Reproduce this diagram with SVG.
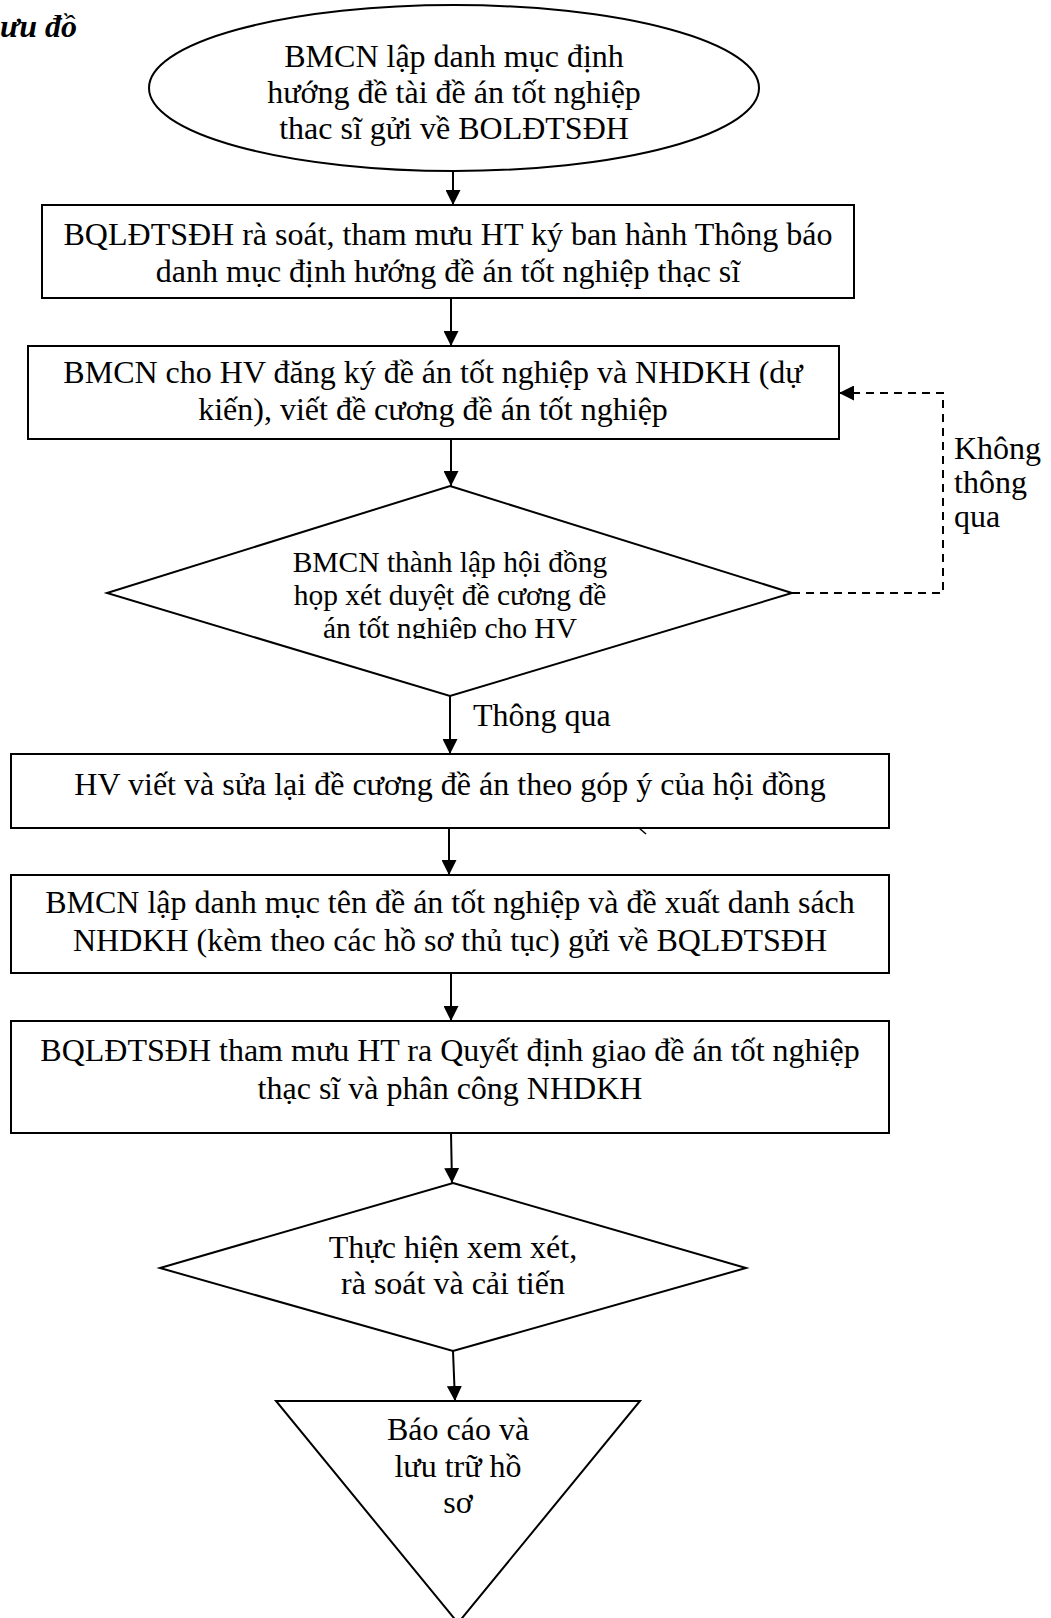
<svg xmlns="http://www.w3.org/2000/svg" width="1051" height="1618" viewBox="0 0 1051 1618">
<style>
.s{fill:#fff;stroke:#000;stroke-width:2}
.t{font-family:"Liberation Serif","Times New Roman",serif;font-size:32px;fill:#000;text-anchor:middle}
.l{font-family:"Liberation Serif","Times New Roman",serif;font-size:32px;fill:#000}
.c{stroke:#000;stroke-width:2;fill:none}
.d{stroke:#000;stroke-width:2;fill:none;stroke-dasharray:8 6}
</style>
<defs>
<marker id="ah" markerWidth="15" markerHeight="15" refX="15" refY="7.5" orient="auto" markerUnits="userSpaceOnUse">
<path d="M0,0 L15,7.5 L0,15 Z" fill="#000"/>
</marker>
<clipPath id="cd1"><rect x="100" y="480" width="700" height="159"/></clipPath>
<clipPath id="ctr"><rect x="270" y="1395" width="380" height="118"/></clipPath>
</defs>
<text x="0" y="37" style="font-family:'Liberation Serif',serif;font-size:32px;font-weight:bold;font-style:italic">ưu đồ</text>
<g id="n1">
<ellipse class="s" cx="454" cy="88" rx="305" ry="83"/>
<text class="t" x="454" y="67">BMCN lập danh mục định</text>
<text class="t" x="454" y="103">hướng đề tài đề án tốt nghiệp</text>
<text class="t" x="454" y="139">thac sĩ gửi về BOLĐTSĐH</text>
</g>
<g id="n2">
<rect class="s" x="42" y="205" width="812" height="93"/>
<text class="t" x="448" y="245">BQLĐTSĐH rà soát, tham mưu HT ký ban hành Thông báo</text>
<text class="t" x="448" y="282">danh mục định hướng đề án tốt nghiệp thạc sĩ</text>
</g>
<g id="n3">
<rect class="s" x="28" y="346" width="811" height="93"/>
<text class="t" x="433" y="383">BMCN cho HV đăng ký đề án tốt nghiệp và NHDKH (dự</text>
<text class="t" x="433" y="420">kiến), viết đề cương đề án tốt nghiệp</text>
</g>
<g id="n4">
<polygon class="s" points="450,486 792,593 450,696 107,593"/>
<g clip-path="url(#cd1)">
<text class="t" x="450" y="572" style="font-size:29.5px">BMCN thành lập hội đồng</text>
<text class="t" x="450" y="605" style="font-size:29.5px">họp xét duyệt đề cương đề</text>
<text class="t" x="450" y="638" style="font-size:29.5px">án tốt nghiệp cho HV</text>
</g>
</g>
<g id="n5">
<rect class="s" x="11" y="754" width="878" height="74"/>
<text class="t" x="450" y="795">HV viết và sửa lại đề cương đề án theo góp ý của hội đồng</text>
<path d="M639,828 L646,834" stroke="#000" stroke-width="1.5" fill="none"/>
</g>
<g id="n6">
<rect class="s" x="11" y="875" width="878" height="98"/>
<text class="t" x="450" y="913">BMCN lập danh mục tên đề án tốt nghiệp và đề xuất danh sách</text>
<text class="t" x="450" y="951">NHDKH (kèm theo các hồ sơ thủ tục) gửi về BQLĐTSĐH</text>
</g>
<g id="n7">
<rect class="s" x="11" y="1021" width="878" height="112"/>
<text class="t" x="450" y="1061">BQLĐTSĐH tham mưu HT ra Quyết định giao đề án tốt nghiệp</text>
<text class="t" x="450" y="1099">thạc sĩ và phân công NHDKH</text>
</g>
<g id="n8">
<polygon class="s" points="453,1183 746,1268 453,1351 160,1268"/>
<text class="t" x="453" y="1258">Thực hiện xem xét,</text>
<text class="t" x="453" y="1294">rà soát và cải tiến</text>
</g>
<g id="n9">
<polygon class="s" points="276,1401 640,1401 458,1623"/>
<g clip-path="url(#ctr)">
<text class="t" x="458" y="1440">Báo cáo và</text>
<text class="t" x="458" y="1477">lưu trữ hồ</text>
<text class="t" x="458" y="1513">sơ</text>
</g>
</g>
<g id="connectors">
<line class="c" x1="453" y1="171" x2="453" y2="205" marker-end="url(#ah)"/>
<line class="c" x1="451" y1="298" x2="451" y2="346" marker-end="url(#ah)"/>
<line class="c" x1="451" y1="439" x2="451" y2="486" marker-end="url(#ah)"/>
<line class="c" x1="450" y1="696" x2="450" y2="754" marker-end="url(#ah)"/>
<line class="c" x1="449" y1="828" x2="449" y2="875" marker-end="url(#ah)"/>
<line class="c" x1="451" y1="973" x2="451" y2="1021" marker-end="url(#ah)"/>
<line class="c" x1="451" y1="1133" x2="452" y2="1183" marker-end="url(#ah)"/>
<line class="c" x1="453" y1="1351" x2="455" y2="1401" marker-end="url(#ah)"/>
<polyline class="d" points="792,593 943,593 943,393 839,393" marker-end="url(#ah)"/>
<text class="l" x="473" y="726">Thông qua</text>
<text class="l" x="954" y="459">Không</text>
<text class="l" x="954" y="493">thông</text>
<text class="l" x="954" y="527">qua</text>
</g>
</svg>
